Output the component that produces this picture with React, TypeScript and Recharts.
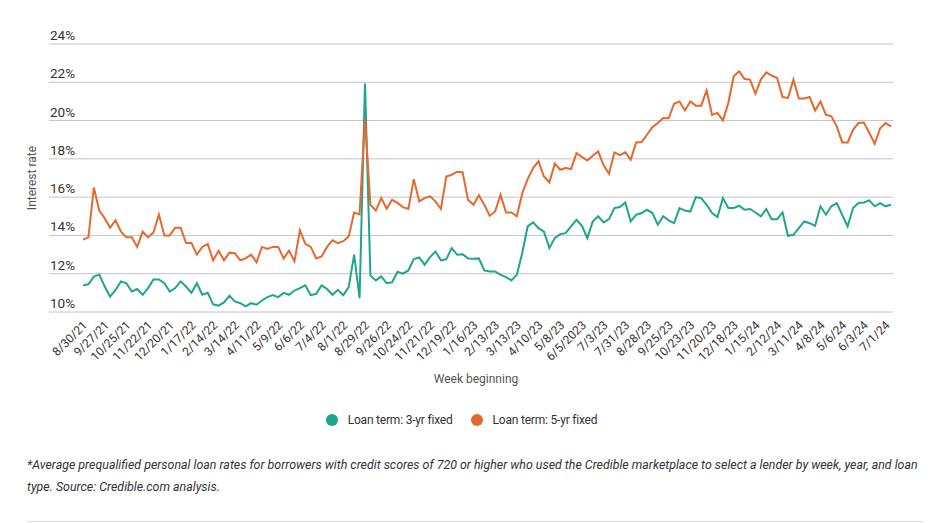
import React from "react";
import {
  LineChart,
  Line,
  XAxis,
  YAxis,
  CartesianGrid,
  Legend,
} from "recharts";

const TICK_LABELS = [
  "8/30/21", "9/27/21", "10/25/21", "11/22/21", "12/20/21", "1/17/22",
  "2/14/22", "3/14/22", "4/11/22", "5/9/22", "6/6/22", "7/4/22", "8/1/22",
  "8/29/22", "9/26/22", "10/24/22", "11/21/22", "12/19/22", "1/16/23",
  "2/13/23", "3/13/23", "4/10/23", "5/8/23", "6/5/2023", "7/3/23", "7/31/23",
  "8/28/23", "9/25/23", "10/23/23", "11/20/23", "12/18/23", "1/15/24",
  "2/12/24", "3/11/24", "4/8/24", "5/6/24", "6/3/24", "7/1/24",
];

// weekly averages, 3-year fixed term
const RATE_3YR = [
  11.39, 11.45, 11.85, 11.95, 11.33, 10.8, 11.15, 11.6, 11.5, 11.07,
  11.2, 10.9, 11.25, 11.7, 11.7, 11.5, 11.07, 11.25, 11.6, 11.33,
  11.0, 11.5, 10.9, 11.0, 10.4, 10.33, 10.5, 10.85, 10.55, 10.46,
  10.3, 10.46, 10.38, 10.6, 10.78, 10.88, 10.78, 11.0, 10.9, 11.12,
  11.25, 11.39, 10.88, 10.95, 11.39, 11.2, 10.9, 11.16, 10.88, 11.3,
  13.0, 10.72, 21.93, 11.9, 11.65, 11.86, 11.5, 11.55, 12.1, 12.0,
  12.17, 12.76, 12.85, 12.47, 12.87, 13.16, 12.7, 12.76, 13.34, 12.99,
  13.02, 12.8, 12.78, 12.8, 12.17, 12.12, 12.12, 11.94, 11.82, 11.65,
  11.94, 13.08, 14.47, 14.68, 14.38, 14.2, 13.34, 13.86, 14.07, 14.12,
  14.47, 14.82, 14.5, 13.86, 14.73, 15.0, 14.68, 14.85, 15.43, 15.48,
  15.72, 14.73, 15.08, 15.17, 15.34, 15.17, 14.56, 15.0, 14.78, 14.64,
  15.43, 15.3, 15.25, 16.0, 15.95, 15.6, 15.17, 14.96, 15.95, 15.43,
  15.43, 15.55, 15.34, 15.38, 15.2, 15.0, 15.38, 14.85, 14.85, 15.2,
  13.98, 14.03, 14.38, 14.73, 14.64, 14.5, 15.52, 15.08, 15.52, 15.69,
  15.08, 14.47, 15.43, 15.69, 15.72, 15.83, 15.52, 15.69, 15.52, 15.6,
];

// weekly averages, 5-year fixed term
const RATE_5YR = [
  13.78, 13.9, 16.5, 15.3, 14.9, 14.4, 14.8, 14.2, 13.9, 13.9,
  13.4, 14.2, 13.9, 14.15, 15.1, 14.0, 14.0, 14.4, 14.4, 13.6,
  13.6, 13.0, 13.4, 13.56, 12.7, 13.2, 12.7, 13.1, 13.07, 12.7,
  12.8, 13.0, 12.6, 13.4, 13.3, 13.4, 13.4, 12.8, 13.2, 12.65,
  14.26, 13.56, 13.4, 12.8, 12.9, 13.4, 13.75, 13.6, 13.7, 13.95,
  15.2, 15.1, 20.1, 15.6, 15.3, 15.95, 15.4, 15.86, 15.7, 15.48,
  15.38, 16.94, 15.78, 15.95, 16.04, 15.78, 15.38, 17.08, 17.17, 17.33,
  17.3, 15.86, 15.6, 16.1, 15.6, 15.03, 15.25, 16.13, 15.2, 15.2,
  15.0, 16.2, 16.94, 17.52, 17.87, 17.08, 16.77, 17.75, 17.43, 17.52,
  17.47, 18.3, 18.1, 17.92, 18.16, 18.39, 17.66, 17.22, 18.34, 18.2,
  18.34, 17.95, 18.86, 18.88, 19.26, 19.66, 19.87, 20.13, 20.12, 20.88,
  21.0, 20.53, 21.0, 20.78, 20.78, 21.58, 20.3, 20.4, 20.0, 20.92,
  22.31, 22.57, 22.17, 22.14, 21.4, 22.14, 22.52, 22.35, 22.22, 21.23,
  21.18, 22.14, 21.15, 21.15, 21.23, 20.53, 21.0, 20.3, 20.22, 19.7,
  18.86, 18.86, 19.52, 19.87, 19.9, 19.35, 18.79, 19.6, 19.87, 19.7,
];

const Y_TICKS = [10, 12, 14, 16, 18, 20, 22, 24];

const TEAL = "#1fa58b";
const ORANGE = "#e4692e";
const FONT = "Roboto, 'Noto Sans', sans-serif";

const data = RATE_3YR.map((v, i) => ({ week: i, r3: v, r5: RATE_5YR[i] }));
const xTicks = TICK_LABELS.map((_, i) => i * 4);

const YTick = (props: any) => (
  <text x={42} y={props.y - 4} textAnchor="start" fontSize={13.5} fill="#333" fontFamily={FONT}>
    {props.payload.value}%
  </text>
);

const XTick = (props: any) => (
  <g transform={`translate(${props.x + 5},${props.y + 6})`}>
    <text x={0} y={0} textAnchor="end" transform="rotate(-45)" fontSize={12} fill="#333" fontFamily={FONT}>
      {TICK_LABELS[props.payload.value / 4]}
    </text>
  </g>
);

const LegendBox = () => (
  <div
    style={{
      display: "flex",
      justifyContent: "center",
      alignItems: "center",
      fontFamily: FONT,
      fontSize: 12,
      color: "#333",
      letterSpacing: -0.2,
      paddingRight: 8,
    }}
  >
    {[
      { name: "Loan term: 3-yr fixed", color: TEAL },
      { name: "Loan term: 5-yr fixed", color: ORANGE },
    ].map((it, i) => (
      <span key={i} style={{ display: "flex", alignItems: "center", marginLeft: i ? 18 : 0 }}>
        <span
          style={{
            width: 12,
            height: 12,
            borderRadius: 6,
            background: it.color,
            marginRight: 10,
            display: "inline-block",
          }}
        />
        {it.name}
      </span>
    ))}
  </div>
);

export default function App() {
  return (
    <div style={{ width: 915, fontFamily: FONT }}>
      <LineChart
        width={915}
        height={446}
        data={data}
        margin={{ top: 36, right: 30, bottom: 82, left: 0 }}
      >
        <CartesianGrid vertical={false} stroke="#c4c4c4" />
        <XAxis
          dataKey="week"
          type="number"
          domain={[0, RATE_3YR.length - 1]}
          ticks={xTicks}
          interval={0}
          tick={<XTick />}
          axisLine={false}
          tickLine={false}
          height={60}
          padding={{ left: 34, right: 2 }}
          label={{
            value: "Week beginning",
            position: "bottom",
            offset: 2,
            dx: 5,
            fontSize: 12,
            fill: "#555",
            fontFamily: FONT,
          }}
        />
        <YAxis
          domain={[10, 24]}
          ticks={Y_TICKS}
          width={41}
          tick={<YTick />}
          axisLine={false}
          tickLine={false}
          label={{
            value: "Interest rate",
            angle: -90,
            position: "insideLeft",
            offset: 24,
            fontSize: 12,
            fill: "#555",
            fontFamily: FONT,
            style: { textAnchor: "middle" },
          }}
        />
        <Legend
          verticalAlign="middle"
          align="center"
          content={<LegendBox />}
          wrapperStyle={{ top: 405, left: 0, width: 915, height: 16 }}
        />
        <Line
          type="linear"
          dataKey="r3"
          name="Loan term: 3-yr fixed"
          stroke={TEAL}
          strokeWidth={2}
          dot={false}
          isAnimationActive={false}
        />
        <Line
          type="linear"
          dataKey="r5"
          name="Loan term: 5-yr fixed"
          stroke={ORANGE}
          strokeWidth={2}
          dot={false}
          isAnimationActive={false}
        />
      </LineChart>
      <div
        style={{
          marginLeft: 19,
          fontStyle: "italic",
          fontSize: 12.4,
          lineHeight: "22px",
          color: "#333",
          whiteSpace: "nowrap",
        }}
      >
        *Average prequalified personal loan rates for borrowers with credit scores of 720 or higher who used the Credible marketplace to select a lender by week, year, and loan
        <br />
        type. Source: Credible.com analysis.
      </div>
      <div style={{ marginLeft: 19, marginTop: 23, width: 903, borderTop: "1px solid #ddd" }} />
    </div>
  );
}
